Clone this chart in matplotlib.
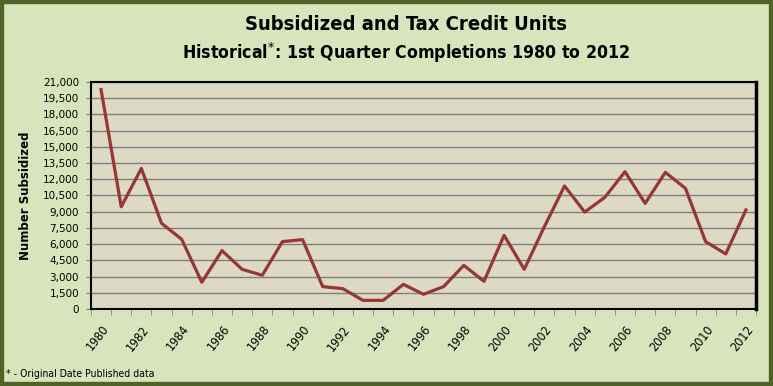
import matplotlib
matplotlib.use("Agg")
import matplotlib.pyplot as plt
from matplotlib.patches import Rectangle

years = list(range(1980, 2013))
units = [20300, 9460, 13000, 7930, 6450, 2470, 5400, 3670, 3120, 6230,
         6420, 2070, 1880, 800, 800, 2280, 1360, 2070, 4040, 2560,
         6810, 3670, 7620, 11380, 8970, 10330, 12700, 9770, 12640, 11160,
         6230, 5090, 9160]
yticks = list(range(0, 21001, 1500))

plt.rcParams['font.family'] = ['DejaVu Sans']

fig = plt.figure(figsize=(7.73, 3.86), dpi=100)
fig.patch.set_facecolor('#D8E4BC')
fig.patches.append(Rectangle((0, 0), 1, 1, transform=fig.transFigure,
                             fill=False, edgecolor='#4F6228', linewidth=6))

ax = fig.add_axes([0.1177, 0.1995, 0.8603, 0.5881])
ax.set_facecolor('#DDD9C3')
x = list(range(len(years)))
ax.plot(x, units, color='#953735', linewidth=2.3, zorder=3)

ax.set_xlim(-0.5, len(years) - 0.5)
ax.set_ylim(0, 21000)
ax.set_yticks(yticks)
ax.set_yticklabels(['{:,}'.format(v) for v in yticks], fontsize=7.5)
ax.yaxis.grid(True, color='#7F7F7F', linewidth=1)
ax.set_axisbelow(True)
ax.tick_params(axis='y', length=3.6, color='#808080', pad=5)

ax.set_xticks([i - 0.5 for i in range(len(years) + 1)], minor=True)
ax.set_xticks(x[::2])
ax.set_xticklabels([str(y) for y in years[::2]], rotation=52, ha='right',
                   rotation_mode='anchor', fontsize=9, fontstretch='condensed')
ax.tick_params(axis='x', which='major', length=0, pad=10)
ax.tick_params(axis='x', which='minor', length=4, color='#808080')

for s in ['left', 'top', 'bottom']:
    ax.spines[s].set_color('black')
    ax.spines[s].set_linewidth(1.5)
ax.spines['right'].set_color('black')
ax.spines['right'].set_linewidth(2.5)

ax.set_ylabel('Number Subsidized', fontsize=8.5, fontweight='bold', labelpad=8)

fig.text(0.525, 0.937, 'Subsidized and Tax Credit Units', ha='center', va='center',
         fontsize=14.5, fontweight='bold', fontstretch='condensed')
fig.text(0.525, 0.862, r'Historical$^{*}$: 1st Quarter Completions 1980 to 2012',
         ha='center', va='center', fontsize=12.7, fontweight='bold', fontstretch='condensed')
fig.text(0.008, 0.032, '* - Original Date Published data', ha='left', va='center',
         fontsize=7.5, fontstretch='condensed')

fig.savefig('out.png', dpi=100, facecolor=fig.get_facecolor())
